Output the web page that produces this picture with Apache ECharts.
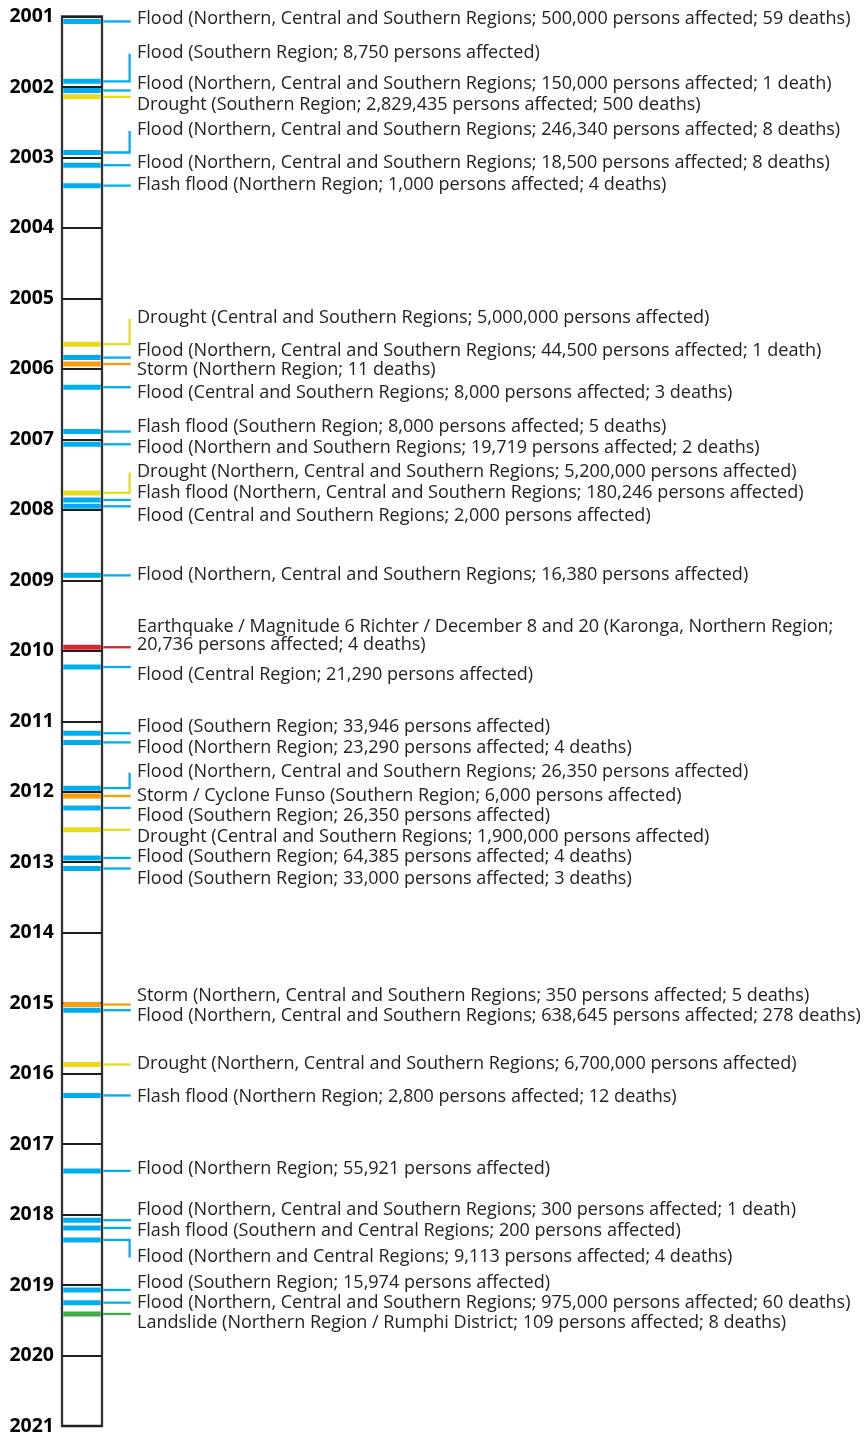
<!DOCTYPE html>
<html><head><meta charset="utf-8">
<script src="https://cdn.jsdelivr.net/npm/echarts@6/dist/echarts.min.js"></script>
<style>html,body{margin:0;padding:0;background:#fff}#c{width:868px;height:1436px}</style>
</head><body><div id="c"></div>
<script>
// ---------- DATA ----------
const yearMin = 2001, yearMax = 2021;
const yearTicks = ['2001','2002','2003','2004','2005','2006','2007','2008','2009','2010','2011',
  '2012','2013','2014','2015','2016','2017','2018','2019','2020','2021'];

const eventYear = [
  2001.07, 2001.92, 2002.05, 2002.14, 2002.93, 2003.11, 2003.40,
  2005.65, 2005.84, 2005.93, 2006.26, 2006.89, 2007.07, 2007.76, 2007.86, 2007.95,
  2008.93, 2009.95, 2010.23, 2011.17, 2011.30, 2011.95, 2012.06, 2012.23, 2012.54,
  2012.94, 2013.09, 2015.02, 2015.10, 2015.87, 2016.31, 2017.38, 2018.08, 2018.19,
  2018.36, 2019.07, 2019.25, 2019.41
];
const eventType = [
  'Flood','Flood','Flood','Drought','Flood','Flood','Flash flood',
  'Drought','Flood','Storm','Flood','Flash flood','Flood','Drought','Flash flood','Flood',
  'Flood','Earthquake','Flood','Flood','Flood','Flood','Storm','Flood','Drought',
  'Flood','Flood','Storm','Flood','Drought','Flash flood','Flood','Flood','Flash flood',
  'Flood','Flood','Flood','Landslide'
];
const eventText = [
  'Flood (Northern, Central and Southern Regions; 500,000 persons affected; 59 deaths)',
  'Flood (Southern Region; 8,750 persons affected)',
  'Flood (Northern, Central and Southern Regions; 150,000 persons affected; 1 death)',
  'Drought (Southern Region; 2,829,435 persons affected; 500 deaths)',
  'Flood (Northern, Central and Southern Regions; 246,340 persons affected; 8 deaths)',
  'Flood (Northern, Central and Southern Regions; 18,500 persons affected; 8 deaths)',
  'Flash flood (Northern Region; 1,000 persons affected; 4 deaths)',
  'Drought (Central and Southern Regions; 5,000,000 persons affected)',
  'Flood (Northern, Central and Southern Regions; 44,500 persons affected; 1 death)',
  'Storm (Northern Region; 11 deaths)',
  'Flood (Central and Southern Regions; 8,000 persons affected; 3 deaths)',
  'Flash flood (Southern Region; 8,000 persons affected; 5 deaths)',
  'Flood (Northern and Southern Regions; 19,719 persons affected; 2 deaths)',
  'Drought (Northern, Central and Southern Regions; 5,200,000 persons affected)',
  'Flash flood (Northern, Central and Southern Regions; 180,246 persons affected)',
  'Flood (Central and Southern Regions; 2,000 persons affected)',
  'Flood (Northern, Central and Southern Regions; 16,380 persons affected)',
  'Earthquake / Magnitude 6 Richter / December 8 and 20 (Karonga, Northern Region;\n20,736 persons affected; 4 deaths)',
  'Flood (Central Region; 21,290 persons affected)',
  'Flood (Southern Region; 33,946 persons affected)',
  'Flood (Northern Region; 23,290 persons affected; 4 deaths)',
  'Flood (Northern, Central and Southern Regions; 26,350 persons affected)',
  'Storm / Cyclone Funso (Southern Region; 6,000 persons affected)',
  'Flood (Southern Region; 26,350 persons affected)',
  'Drought (Central and Southern Regions; 1,900,000 persons affected)',
  'Flood (Southern Region; 64,385 persons affected; 4 deaths)',
  'Flood (Southern Region; 33,000 persons affected; 3 deaths)',
  'Storm (Northern, Central and Southern Regions; 350 persons affected; 5 deaths)',
  'Flood (Northern, Central and Southern Regions; 638,645 persons affected; 278 deaths)',
  'Drought (Northern, Central and Southern Regions; 6,700,000 persons affected)',
  'Flash flood (Northern Region; 2,800 persons affected; 12 deaths)',
  'Flood (Northern Region; 55,921 persons affected)',
  'Flood (Northern, Central and Southern Regions; 300 persons affected; 1 death)',
  'Flash flood (Southern and Central Regions; 200 persons affected)',
  'Flood (Northern and Central Regions; 9,113 persons affected; 4 deaths)',
  'Flood (Southern Region; 15,974 persons affected)',
  'Flood (Northern, Central and Southern Regions; 975,000 persons affected; 60 deaths)',
  'Landslide (Northern Region / Rumphi District; 109 persons affected; 8 deaths)'
];

// ---------- LAYOUT / STYLE ----------
// vertical offset (px) of each label from its event mark
const labelShift = [
  -3, -29, -7, 7.6, -23, -2.7, -1.7,
  -27, -7.7, 5.3, 5, -6, 2.7, -22, -8, 8.3,
  -1, -12, 7, -7, 5, -17, -1, 7, 6.7,
  -2.3, 10, -9.3, 5, -1, 1, -3, -10.7, 2,
  16, -8, -1, 8
];
const typeColor = {
  'Flood': '#00AEEF', 'Flash flood': '#00AEEF', 'Drought': '#E9DB1A',
  'Storm': '#F99D0A', 'Earthquake': '#D7262D', 'Landslide': '#3EAA48'
};
const connectorEndX = 130.8, labelX = 137;
const labelFont = '"Open Sans", "Noto Sans", sans-serif';

const chart = echarts.init(document.getElementById('c'), null, {renderer: 'canvas'});
chart.setOption({
  animation: false,
  backgroundColor: '#fff',
  grid: {left: 62, top: 16.5, width: 40, height: 1411.5, show: true,
         borderColor: '#333', borderWidth: 2.3, backgroundColor: 'transparent'},
  xAxis: {type: 'value', min: 0, max: 1, show: false},
  yAxis: {
    type: 'value', min: yearMin, max: yearMax, interval: 1, inverse: true,
    axisLine: {show: false}, axisTick: {show: false},
    splitLine: {show: true, lineStyle: {color: '#1e1e1e', width: 2}},
    axisLabel: {
      show: true, showMinLabel: true, showMaxLabel: true, margin: 8,
      fontWeight: 'bold', fontSize: 19.5, color: '#000', fontFamily: labelFont,
      formatter: v => yearTicks[Math.round(v - yearMin)]
    }
  },
  series: [{
    type: 'custom',
    clip: false,
    encode: {x: 0, y: 1},
    data: eventYear.map(y => [0.5, y]),
    renderItem: function (params, api) {
      const i = params.dataIndex;
      const yr = api.value(1);
      const p0 = api.coord([0, yr]), p1 = api.coord([1, yr]);
      const cy = p0[1];
      const col = typeColor[eventType[i]];
      const ly = cy + labelShift[i];
      const children = [{
        type: 'rect',
        shape: {x: p0[0] + 1.3, y: cy - 2.5, width: p1[0] - p0[0] - 2.6, height: 5},
        style: {fill: col}
      }];
      const xs = p1[0] + 1.3;
      if (Math.abs(labelShift[i]) > 14) {
        const vx = connectorEndX - 1.2;
        children.push({type: 'polyline',
          shape: {points: [[xs, cy], [vx, cy], [vx, ly + 1.5]]},
          style: {stroke: col, lineWidth: 2.3, fill: null}});
      } else {
        children.push({type: 'line',
          shape: {x1: xs, y1: cy, x2: connectorEndX, y2: cy},
          style: {stroke: col, lineWidth: 2.3}});
      }
      children.push({type: 'text', x: labelX, y: ly + 0.8,
        style: {text: eventText[i], fill: '#222', fontSize: 18.05, fontFamily: labelFont,
                align: 'left', verticalAlign: 'middle', lineHeight: 18}});
      return {type: 'group', children: children};
    }
  }]
});
</script>
</body></html>
